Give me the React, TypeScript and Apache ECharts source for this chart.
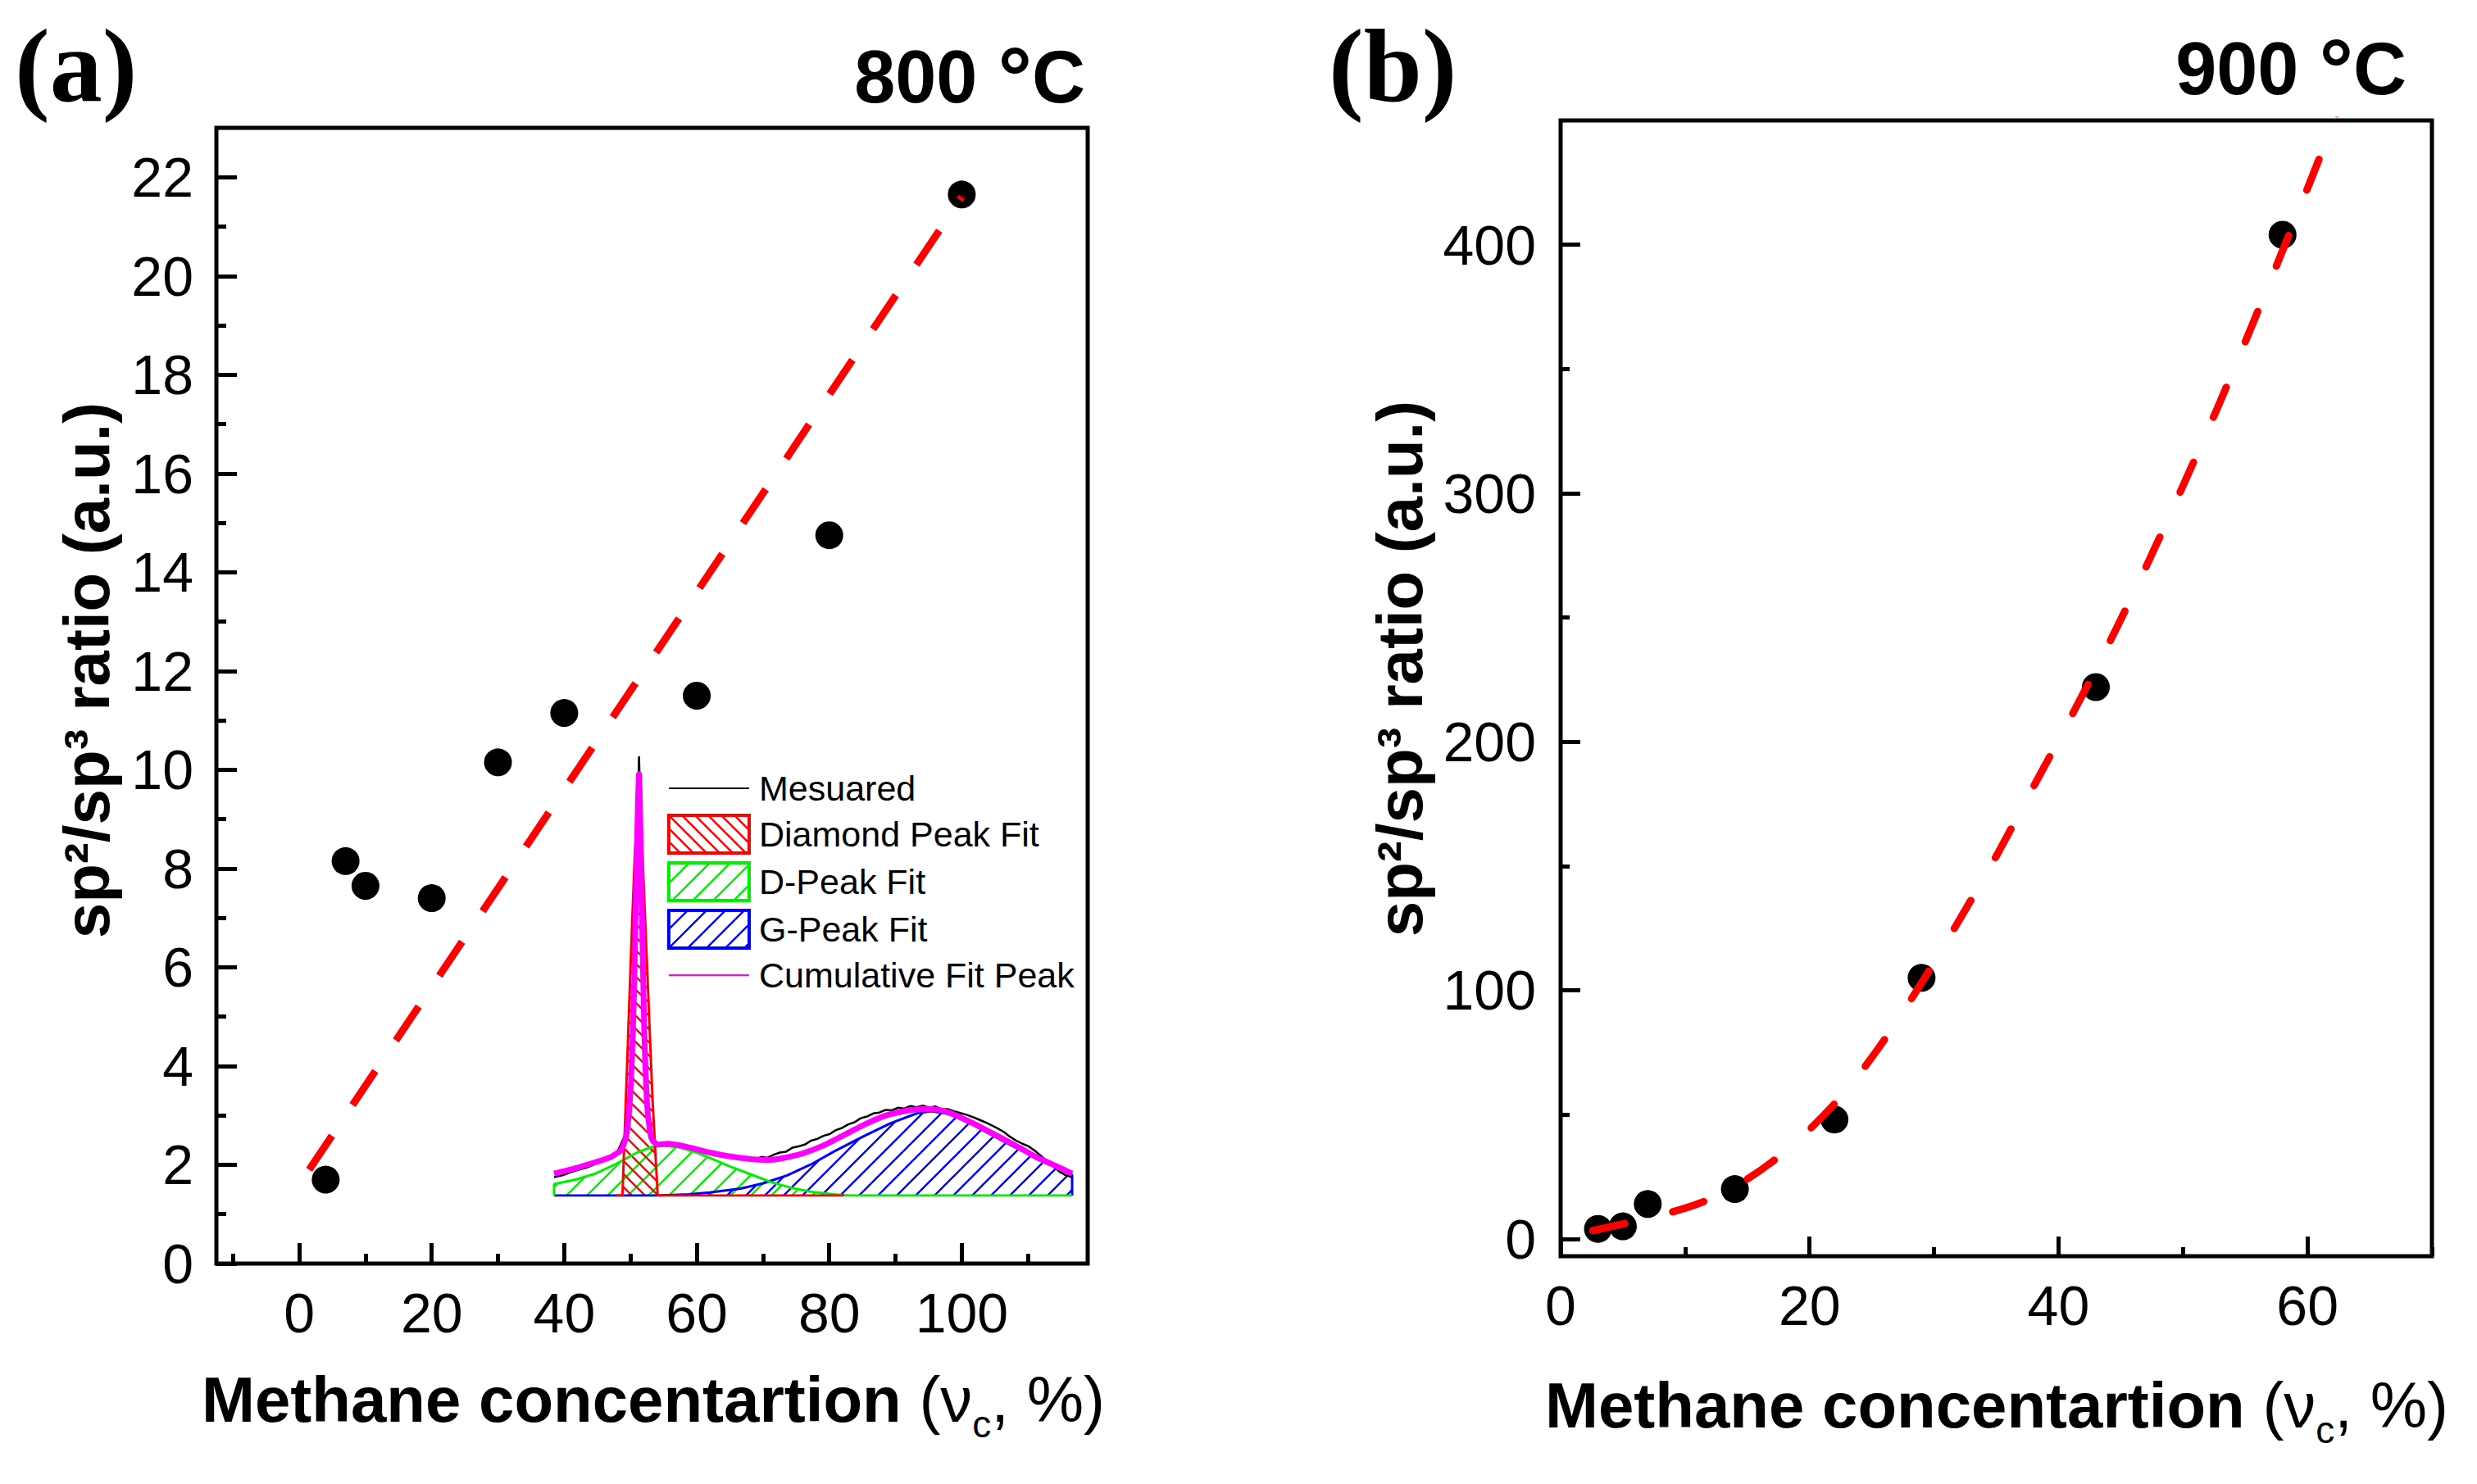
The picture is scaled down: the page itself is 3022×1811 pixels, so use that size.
import { useEffect, useRef } from "react";
import * as echarts from "echarts";

// panel (a) 800 °C
const concA = [4, 7, 10, 20, 30, 40, 60, 80, 100];
const ratioA = [1.7, 8.15, 7.65, 7.4, 10.15, 11.15, 11.5, 14.75, 21.65];
const fitConcA = [1.5, 100];
const fitRatioA = [1.9, 21.6];

// panel (b) 900 °C
const concB = [3, 5, 7, 14, 22, 29, 43, 58];
const ratioB = [4, 5, 14, 20, 48, 105, 222, 404];
const fitConcB = [2.6, 5, 8, 11, 14, 17, 20, 23, 26, 29, 32, 35, 38, 41, 44, 47, 50, 53, 56, 59, 62, 63];
const fitRatioB = [3.3, 6, 9.5, 14, 21, 31, 44, 60, 80, 103, 128, 154, 182, 210, 239, 270, 303, 337, 373, 410, 448, 461];

// ticks
const xTicksA = [0, 20, 40, 60, 80, 100];
const xMinorA = [-10, 10, 30, 50, 70, 90, 110];
const yTicksA = [0, 2, 4, 6, 8, 10, 12, 14, 16, 18, 20, 22];
const yMinorA = [1, 3, 5, 7, 9, 11, 13, 15, 17, 19, 21];
const xTicksB = [0, 20, 40, 60];
const xMinorB = [10, 30, 50, 70];
const yTicksB = [0, 100, 200, 300, 400];
const yMinorB = [50, 150, 250, 350];

// inset: Raman spectrum (shift in cm-1, intensity a.u.)
const measuredShift = [
  1250, 1258, 1266, 1274, 1282, 1290, 1298, 1306, 1312, 1318, 1322, 1325, 1327, 1329, 1331, 1332, 1333, 1335,
  1337, 1339, 1341, 1344, 1348, 1354, 1360, 1366, 1372, 1378, 1384, 1390, 1396, 1402, 1408, 1414, 1420, 1426,
  1432, 1438, 1444, 1450, 1456, 1462, 1468, 1474, 1480, 1486, 1492, 1498, 1504, 1510, 1516, 1522, 1528, 1534,
  1540, 1546, 1552, 1558, 1564, 1570, 1576, 1582, 1588, 1594, 1600, 1606, 1612, 1618, 1624, 1630, 1636, 1642,
  1648, 1654, 1660, 1666, 1672, 1678, 1684, 1690, 1696, 1702, 1708, 1714, 1720, 1726, 1732, 1738, 1744, 1750,
];
const measuredInt = [
  4.2, 4.6, 5.3, 5.9, 6.4, 7.2, 7.9, 9.0, 10.4, 13.5, 19, 30, 45, 68, 92, 100, 90, 62,
  38, 22, 15, 12.2, 11.6, 11.8, 11.4, 11.9, 11.2, 11.0, 10.6, 10.5, 9.9, 9.4, 9.6, 8.9, 8.7, 8.9,
  8.4, 8.6, 8.2, 8.8, 8.6, 9.3, 9.8, 10.0, 10.9, 11.2, 11.6, 12.5, 12.9, 13.6, 14.0, 14.9, 15.4, 16.2,
  16.7, 17.6, 18.0, 18.7, 18.9, 19.5, 19.4, 20.0, 19.8, 20.4, 20.1, 20.5, 20.0, 20.3, 19.6, 19.7, 19.2, 18.8,
  18.4, 17.9, 17.3, 16.7, 16.0, 15.3, 14.5, 13.4, 12.5, 11.8, 11.2, 10.2, 9.0, 7.8, 6.6, 5.4, 4.6, 4.2,
];
const cumulativeShift = [
  1250, 1270, 1290, 1305, 1315, 1320, 1324, 1327, 1329, 1331, 1332, 1333, 1335, 1337, 1340, 1344, 1350, 1360,
  1370, 1385, 1400, 1420, 1440, 1455, 1470, 1490, 1510, 1530, 1550, 1570, 1590, 1605, 1615, 1630, 1645, 1660,
  1680, 1700, 1715, 1730, 1750,
];
const cumulativeInt = [
  5.0, 6.2, 7.6, 8.8, 10.5, 14, 25, 45, 68, 90, 96, 88, 62, 38, 20, 13, 11.6, 11.8,
  11.5, 10.7, 9.8, 8.9, 8.3, 8.1, 8.5, 9.6, 11.4, 13.8, 16.2, 18.2, 19.3, 19.7, 19.7, 19.0, 17.5, 15.8,
  13.3, 10.8, 8.8, 7.2, 5.0,
];
const diamondShift = [1310, 1316, 1319, 1322, 1325, 1328, 1330, 1332, 1334, 1337, 1341, 1345, 1350, 1530];
const diamondInt = [0, 0, 20, 40, 60, 78, 85, 88, 85, 68, 45, 22, 0, 0];
const dPeakShift = [
  1250, 1250, 1270, 1290, 1310, 1330, 1345, 1355, 1370, 1385, 1400, 1420, 1440, 1460, 1480, 1500, 1520, 1535, 1750,
];
const dPeakInt = [0, 2.6, 3.6, 5.0, 7.2, 9.8, 11.1, 11.4, 11.0, 10.0, 8.6, 6.6, 4.8, 3.0, 1.7, 0.8, 0.3, 0, 0];
const gPeakShift = [
  1250, 1350, 1380, 1400, 1430, 1452, 1475, 1498, 1520, 1548, 1575, 1600, 1614, 1630, 1650, 1663, 1690, 1712,
  1735, 1750, 1750,
];
const gPeakInt = [0, 0, 0.3, 0.7, 1.6, 2.8, 4.6, 7.1, 10.0, 13.4, 16.5, 18.7, 19.2, 18.6, 16.8, 15.0, 11.6, 9.0, 6.3, 4.7, 0];

const FONT = "Liberation Sans";

const zip = (xs: number[], ys: number[]) => xs.map((x, i) => [x, ys[i]]);

// diagonal hatch tile used as a repeating fill pattern
function hatch(color: string, size: number, dir: "/" | "\\") {
  const c = document.createElement("canvas");
  c.width = size;
  c.height = size;
  const ctx = c.getContext("2d")!;
  ctx.strokeStyle = color;
  ctx.lineWidth = 2.4;
  ctx.beginPath();
  if (dir === "/") {
    ctx.moveTo(-2, size + 2);
    ctx.lineTo(size + 2, -2);
    ctx.moveTo(-2, 2);
    ctx.lineTo(2, -2);
    ctx.moveTo(size - 2, size + 2);
    ctx.lineTo(size + 2, size - 2);
  } else {
    ctx.moveTo(-2, -2);
    ctx.lineTo(size + 2, size + 2);
    ctx.moveTo(size - 2, -2);
    ctx.lineTo(size + 2, 2);
    ctx.moveTo(-2, size - 2);
    ctx.lineTo(2, size + 2);
  }
  ctx.stroke();
  return { image: c, repeat: "repeat", imageWidth: size, imageHeight: size };
}

function tickAxis(
  gridIndex: number,
  min: number,
  max: number,
  values: number[],
  len: number,
  labels: boolean,
  margin: number
) {
  return {
    type: "value",
    gridIndex,
    min,
    max,
    axisLine: { show: false, onZero: false },
    splitLine: { show: false },
    axisTick: {
      show: true,
      inside: true,
      length: len,
      customValues: values,
      lineStyle: { color: "#000", width: 5 },
    },
    axisLabel: {
      show: labels,
      customValues: values,
      margin,
      color: "#000",
      fontSize: 68,
      fontFamily: FONT,
    },
  };
}

const axisTitle = (text: string) => ({
  text,
  fill: "#000",
  align: "center",
  verticalAlign: "middle",
  rich: {
    b: { fontSize: 78, fontWeight: "bold", fontFamily: FONT, lineHeight: 110, fill: "#000" },
    r: { fontSize: 78, fontWeight: "normal", fontFamily: FONT, lineHeight: 110, fill: "#000" },
    s: { fontSize: 46, fontWeight: "normal", fontFamily: FONT, lineHeight: 46, padding: [60, 0, 0, 0], fill: "#000" },
  },
});

const tempTitle = (text: string) => ({
  text,
  fill: "#000",
  align: "right",
  verticalAlign: "middle",
  rich: {
    t: { fontSize: 90, fontWeight: "bold", fontFamily: FONT, fill: "#000" },
    d: { fontSize: 104, fontWeight: "bold", fontFamily: FONT, fill: "#000" },
  },
});

const frame = { show: true, borderColor: "#000", borderWidth: 5, backgroundColor: "transparent" };

function buildOption() {
  const redFill = hatch("#ff0000", 16, "\\");
  const greenFill = hatch("#00ee00", 25, "/");
  const blueFill = hatch("#0000ff", 23, "/");

  const areaSeries = (name: string, xs: number[], ys: number[], color: string, fill: object) => ({
    name,
    type: "line",
    xAxisIndex: 4,
    yAxisIndex: 4,
    data: zip(xs, ys),
    symbol: "none",
    lineStyle: { color, width: 3 },
    itemStyle: { color },
    areaStyle: { color: fill, opacity: 1 },
    z: 5,
  });

  const legendRect = (name: string, color: string, fill: object) => ({
    name,
    icon: "rect",
    itemStyle: { color: fill, borderColor: color, borderWidth: 4, opacity: 1 },
  });

  const legendLine = (name: string) => ({
    name,
    itemStyle: { color: "rgba(0,0,0,0)", borderColor: "rgba(0,0,0,0)", borderWidth: 0 },
  });

  return {
    animation: false,
    backgroundColor: "#fff",
    grid: [
      { left: 264, top: 156, width: 1063, height: 1386, ...frame },
      { left: 1904, top: 147, width: 1063, height: 1386, ...frame },
      { left: 676, top: 923, width: 632, height: 536, show: false },
    ],
    xAxis: [
      { ...tickAxis(0, -12.5, 119, xTicksA, 25, true, 26), position: "bottom" },
      { ...tickAxis(0, -12.5, 119, xMinorA, 12, false, 0), position: "bottom" },
      { ...tickAxis(1, 0, 70, xTicksB, 24, true, 26), position: "bottom" },
      { ...tickAxis(1, 0, 70, xMinorB, 11, false, 0), position: "bottom" },
      { type: "value", gridIndex: 2, min: 1250, max: 1750, show: false },
    ],
    yAxis: [
      { ...tickAxis(0, 0, 23, yTicksA, 25, true, 28), position: "left" },
      { ...tickAxis(0, 0, 23, yMinorA, 12, false, 0), position: "left" },
      { ...tickAxis(1, -7, 450, yTicksB, 24, true, 30), position: "left" },
      { ...tickAxis(1, -7, 450, yMinorB, 11, false, 0), position: "left" },
      { type: "value", gridIndex: 2, min: 0, max: 100, show: false },
    ],
    legend: {
      orient: "vertical",
      left: 814,
      top: 939,
      padding: 0,
      itemWidth: 98,
      itemHeight: 46,
      itemGap: 8,
      selectedMode: false,
      textStyle: { fontFamily: FONT, fontSize: 43, color: "#000", lineHeight: 46, padding: [0, 0, 0, 7] },
      data: [
        legendLine("Mesuared"),
        legendRect("Diamond Peak Fit", "#ff0000", redFill),
        legendRect("D-Peak Fit", "#00ee00", greenFill),
        legendRect("G-Peak Fit", "#0000ff", blueFill),
        legendLine("Cumulative Fit Peak"),
      ],
    },
    graphic: [
      { type: "text", x: 18, y: 80, style: { text: "(a)", fill: "#000", font: "bold 128px 'Liberation Serif'", align: "left", verticalAlign: "middle" } },
      { type: "text", x: 1621, y: 80, style: { text: "(b)", fill: "#000", font: "bold 128px 'Liberation Serif'", align: "left", verticalAlign: "middle" } },
      { type: "text", x: 1324, y: 94, style: tempTitle("{t|800 }{d|°}{t|C}") },
      { type: "text", x: 2936, y: 84, style: tempTitle("{t|900 }{d|°}{t|C}") },
      {
        type: "text",
        x: 106,
        y: 818,
        rotation: Math.PI / 2,
        style: { text: "sp²/sp³ ratio (a.u.)", fill: "#000", font: `bold 78px '${FONT}'`, align: "center", verticalAlign: "middle" },
      },
      {
        type: "text",
        x: 1708,
        y: 816,
        rotation: Math.PI / 2,
        style: { text: "sp²/sp³ ratio (a.u.)", fill: "#000", font: `bold 78px '${FONT}'`, align: "center", verticalAlign: "middle" },
      },
      { type: "text", x: 797, y: 1708, style: axisTitle("{b|Methane concentartion }{r|(ν}{s|c}{r|, %)}") },
      { type: "text", x: 2436, y: 1715, style: axisTitle("{b|Methane concentartion }{r|(ν}{s|c}{r|, %)}") },
    ],
    series: [
      {
        type: "scatter",
        xAxisIndex: 0,
        yAxisIndex: 0,
        data: zip(concA, ratioA),
        symbolSize: 34,
        itemStyle: { color: "#000", opacity: 1 },
        z: 3,
      },
      {
        type: "line",
        xAxisIndex: 0,
        yAxisIndex: 0,
        data: zip(fitConcA, fitRatioA),
        symbol: "none",
        lineStyle: { color: "#ff0000", width: 9, type: [50, 45], cap: "butt" },
        z: 4,
      },
      {
        type: "scatter",
        xAxisIndex: 2,
        yAxisIndex: 2,
        data: zip(concB, ratioB),
        symbolSize: 34,
        itemStyle: { color: "#000", opacity: 1 },
        z: 3,
      },
      {
        type: "line",
        xAxisIndex: 2,
        yAxisIndex: 2,
        data: zip(fitConcB, fitRatioB),
        smooth: 0.3,
        symbol: "none",
        lineStyle: { color: "#ff0000", width: 9, type: [40, 60], cap: "round" },
        z: 4,
      },
      areaSeries("G-Peak Fit", gPeakShift, gPeakInt, "#0000ff", blueFill),
      areaSeries("D-Peak Fit", dPeakShift, dPeakInt, "#00ee00", greenFill),
      areaSeries("Diamond Peak Fit", diamondShift, diamondInt, "#ff0000", redFill),
      {
        name: "Mesuared",
        type: "line",
        xAxisIndex: 4,
        yAxisIndex: 4,
        data: zip(measuredShift, measuredInt),
        symbol: "none",
        lineStyle: { color: "#000", width: 2.5 },
        itemStyle: { color: "#000" },
        z: 6,
      },
      {
        name: "Cumulative Fit Peak",
        type: "line",
        xAxisIndex: 4,
        yAxisIndex: 4,
        data: zip(cumulativeShift, cumulativeInt),
        smooth: 0.2,
        symbol: "none",
        lineStyle: { color: "#ff00ff", width: 7 },
        itemStyle: { color: "#ff00ff" },
        z: 7,
      },
    ],
  };
}

export default function App() {
  const chartRef = useRef<HTMLDivElement>(null);

  useEffect(() => {
    if (!chartRef.current) return;
    const chart = echarts.init(chartRef.current, undefined, { renderer: "svg" });
    chart.setOption(buildOption() as any);
    return () => {
      chart.dispose();
    };
  }, []);

  return (
    <div
      ref={chartRef}
      style={{ position: "fixed", left: 0, top: 0, width: 3022, height: 1811, background: "#fff" }}
    ></div>
  );
}
